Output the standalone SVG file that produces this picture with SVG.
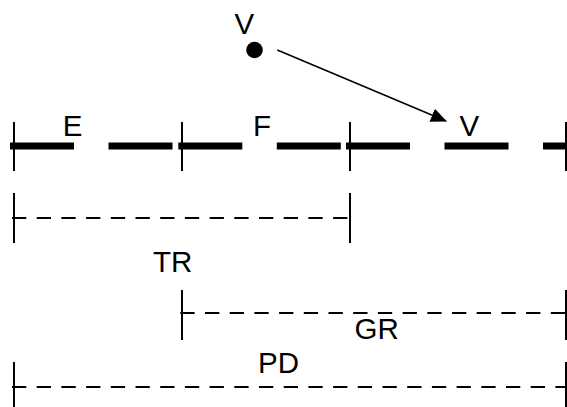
<svg xmlns="http://www.w3.org/2000/svg" width="567" height="407" viewBox="0 0 567 407">
<style>
text{font-family:"Liberation Sans",Arial,sans-serif;font-size:29.5px;fill:#000}
.thick{stroke:#000;stroke-width:7;stroke-dasharray:64 34.5;fill:none}
.tick{stroke:#000;stroke-width:2;fill:none}
.dash{stroke:#000;stroke-width:2;stroke-dasharray:14.3 10.4;fill:none}
.arrow{stroke:#000;stroke-width:1.6;fill:none}
</style>
<defs>
<marker id="ah" markerWidth="16" markerHeight="14" refX="15" refY="7" orient="auto" markerUnits="userSpaceOnUse">
<path d="M0,0 L16,7 L0,14 Z" fill="#000"/>
</marker>
</defs>
<g id="track">
<line class="thick" x1="10" y1="146" x2="173.5" y2="146"/>
<line class="thick" x1="178.3" y1="146" x2="341.7" y2="146"/>
<line class="thick" x1="346" y1="146" x2="567" y2="146"/>
<line class="tick" x1="14" y1="122" x2="14" y2="171"/>
<line class="tick" x1="182" y1="122" x2="182" y2="171"/>
<line class="tick" x1="350" y1="122" x2="350" y2="171"/>
<line class="tick" x1="566" y1="122" x2="566" y2="171"/>
</g>
<g id="E"><text x="62.7" y="136">E</text></g>
<g id="F"><text x="253" y="136">F</text></g>
<g id="V2"><text x="459.5" y="136">V</text></g>
<g id="V1">
<text x="234.5" y="34">V</text>
<circle cx="254.5" cy="50" r="8.3" fill="#000"/>
</g>
<g id="TR">
<line class="tick" x1="14" y1="193" x2="14" y2="243"/>
<line class="tick" x1="350" y1="193" x2="350" y2="243"/>
<line class="dash" x1="12" y1="218" x2="350" y2="218"/>
<text x="153" y="272">TR</text>
</g>
<g id="GR">
<line class="tick" x1="182" y1="290" x2="182" y2="340"/>
<line class="tick" x1="566" y1="290" x2="566" y2="340"/>
<line class="dash" x1="180.3" y1="313" x2="566" y2="313"/>
<text x="354.6" y="339">GR</text>
</g>
<g id="PD">
<line class="tick" x1="14" y1="362" x2="14" y2="407"/>
<line class="tick" x1="566" y1="362" x2="566" y2="407"/>
<line class="dash" x1="12" y1="387" x2="566" y2="387"/>
<text x="258" y="373">PD</text>
</g>
<g id="connectors">
<line class="arrow" x1="277.3" y1="50" x2="446" y2="121" marker-end="url(#ah)"/>
</g>
</svg>
